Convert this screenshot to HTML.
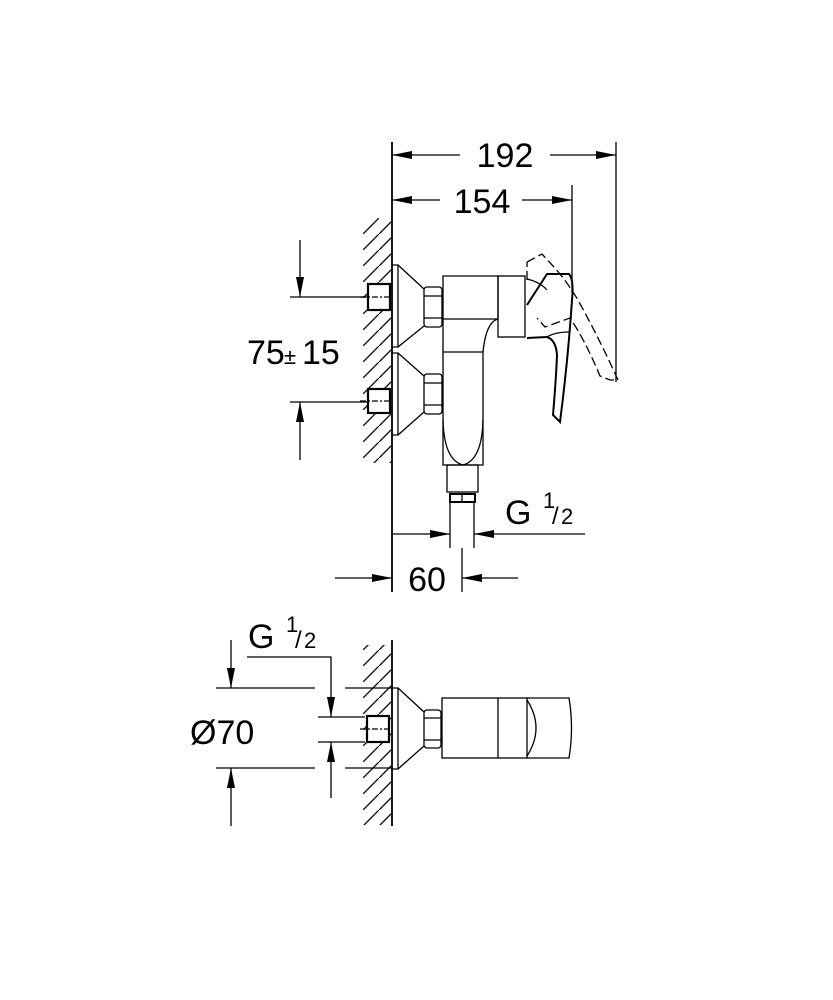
<!DOCTYPE html>
<html><head><meta charset="utf-8"><style>
html,body{margin:0;padding:0;background:#fff;}
svg{display:block}
text{font-family:"Liberation Sans",sans-serif;fill:#000}
</style></head><body>
<svg width="833" height="1000" viewBox="0 0 833 1000" xmlns="http://www.w3.org/2000/svg">
<defs>
<marker id="a" viewBox="0 0 20 8" refX="20" refY="4" markerWidth="20" markerHeight="8" markerUnits="userSpaceOnUse" orient="auto"><path d="M0,0 L20,4 L0,8 z" fill="#000"/></marker>
<pattern id="h" width="16" height="16" patternUnits="userSpaceOnUse" x="363" y="218"><path d="M-2,18 L18,-2" stroke="#000" stroke-width="1.3"/></pattern>
</defs>
<g fill="none" stroke="#000" stroke-width="1.3">
<!-- TOP VIEW -->
<rect x="363" y="218" width="28" height="245" fill="url(#h)" stroke="none"/>
<line x1="392" y1="142" x2="392" y2="592" stroke-width="1.8"/>
<line x1="616" y1="142" x2="616" y2="382"/>
<line x1="460" y1="155" x2="392" y2="155" marker-end="url(#a)"/>
<line x1="550" y1="155" x2="616" y2="155" marker-end="url(#a)"/>
<line x1="572" y1="185" x2="572" y2="292"/>
<line x1="440" y1="200" x2="392" y2="200" marker-end="url(#a)"/>
<line x1="522" y1="200" x2="572" y2="200" marker-end="url(#a)"/>
<line x1="290" y1="297" x2="367" y2="297"/>
<line x1="290" y1="402" x2="367" y2="402"/>
<line x1="300" y1="240" x2="300" y2="297" marker-end="url(#a)"/>
<line x1="300" y1="460" x2="300" y2="402" marker-end="url(#a)"/>
<rect x="368" y="284" width="22" height="26" stroke-width="2.2" fill="#fff"/>
<rect x="368" y="389" width="22" height="24" stroke-width="2.2" fill="#fff"/>
<line x1="360" y1="297" x2="392" y2="297" stroke-dasharray="6,2,2,2"/>
<line x1="360" y1="401" x2="392" y2="401" stroke-dasharray="6,2,2,2"/>
<path d="M392,265 L398,265 L398,347 L392,347"/>
<path d="M398,265 L424,289 M424,326 L398,347"/>
<path d="M392,353 L398,353 L398,435 L392,435"/>
<path d="M398,353 L424,376 M424,412 L398,435"/>
<rect x="424" y="287" width="18" height="40" rx="3"/>
<line x1="424" y1="296" x2="442" y2="296"/><line x1="424" y1="318" x2="442" y2="318"/>
<rect x="424" y="374" width="18" height="40" rx="3"/>
<line x1="424" y1="383" x2="442" y2="383"/><line x1="424" y1="405" x2="442" y2="405"/>
<path d="M443,276 L498,276 L498,319 Q486,322 483,352 L483,465 L443,465 Z"/>
<line x1="443" y1="319" x2="498" y2="319"/>
<line x1="443" y1="352" x2="483" y2="352"/>
<path d="M443,420 Q444,460 463,465 Q482,460 483,420"/>
<rect x="498" y="276" width="27" height="61"/>
<rect x="447" y="465" width="31" height="27"/>
<rect x="450" y="494" width="25" height="8" stroke-width="2"/>
<line x1="462" y1="494" x2="462" y2="502"/>
<line x1="450" y1="502" x2="450" y2="548"/>
<line x1="474" y1="502" x2="474" y2="548"/>
<path d="M527,305 L547,274 L569,274 Q574,280 572,300 Q568,360 560,422 L553,415 Q556,380 557,355 Q556,340 547,337 L527,338" stroke-width="2"/>
<path d="M527,279 Q540,282 547,290"/>
<path d="M547,337 Q555,332 569,332"/>
<path d="M527,262 L542,254 L553,266 Q566,280 578,300 Q600,340 618,380 L610,380 L600,376 Q585,340 570,318 L545,327 L537,318 M527,280 L527,262" stroke-dasharray="9,4"/>
<line x1="462" y1="548" x2="462" y2="592"/>
<line x1="335" y1="578" x2="392" y2="578" marker-end="url(#a)"/>
<line x1="518" y1="578" x2="462" y2="578" marker-end="url(#a)"/>
<line x1="393" y1="534" x2="450" y2="534" marker-end="url(#a)"/>
<line x1="585" y1="534" x2="474" y2="534" marker-end="url(#a)"/>

<!-- BOTTOM VIEW -->
<rect x="363" y="645" width="28" height="180" fill="url(#h)" stroke="none"/>
<line x1="392" y1="640" x2="392" y2="826" stroke-width="1.8"/>
<line x1="216" y1="688" x2="315" y2="688"/><line x1="345" y1="688" x2="392" y2="688"/>
<line x1="216" y1="768" x2="315" y2="768"/><line x1="345" y1="768" x2="392" y2="768"/>
<line x1="318" y1="717" x2="365" y2="717"/><line x1="318" y1="742" x2="365" y2="742"/>
<line x1="231" y1="640" x2="231" y2="688" marker-end="url(#a)"/>
<line x1="231" y1="826" x2="231" y2="768" marker-end="url(#a)"/>
<path d="M247,657 L331,657 L331,717" marker-end="url(#a)"/>
<line x1="331" y1="798" x2="331" y2="742" marker-end="url(#a)"/>
<rect x="367" y="716" width="22" height="26" stroke-width="2.2" fill="#fff"/>
<line x1="360" y1="729" x2="392" y2="729" stroke-dasharray="6,2,2,2"/>
<path d="M392,688 L398,688 L398,769 L392,769"/>
<path d="M398,688 L424,712 M424,746 L398,769"/>
<rect x="424" y="710" width="17" height="38" rx="3"/>
<line x1="424" y1="718" x2="441" y2="718"/><line x1="424" y1="740" x2="441" y2="740"/>
<rect x="442" y="698" width="85" height="60"/>
<line x1="498" y1="698" x2="498" y2="758"/>
<path d="M527,698 L569,698 Q574,728 569,758 L527,758"/>
<path d="M527,700 Q545,728 527,756"/>
</g>
<g font-size="34">
<text x="505" y="167" text-anchor="middle">192</text>
<text x="482" y="213" text-anchor="middle">154</text>
<text x="247" y="364">75</text>
<text x="284" y="364" font-size="22">±</text>
<text x="302" y="364">15</text>
<text x="427" y="591" text-anchor="middle">60</text>
<text x="505" y="524">G</text>
<text x="543" y="508" font-size="22">1</text>
<text x="552" y="524" font-size="24">/</text>
<text x="561" y="524" font-size="22">2</text>
<text x="248" y="648">G</text>
<text x="286" y="632" font-size="22">1</text>
<text x="295" y="648" font-size="24">/</text>
<text x="304" y="648" font-size="22">2</text>
<text x="190" y="744">Ø70</text>
</g>
</svg>
</body></html>
